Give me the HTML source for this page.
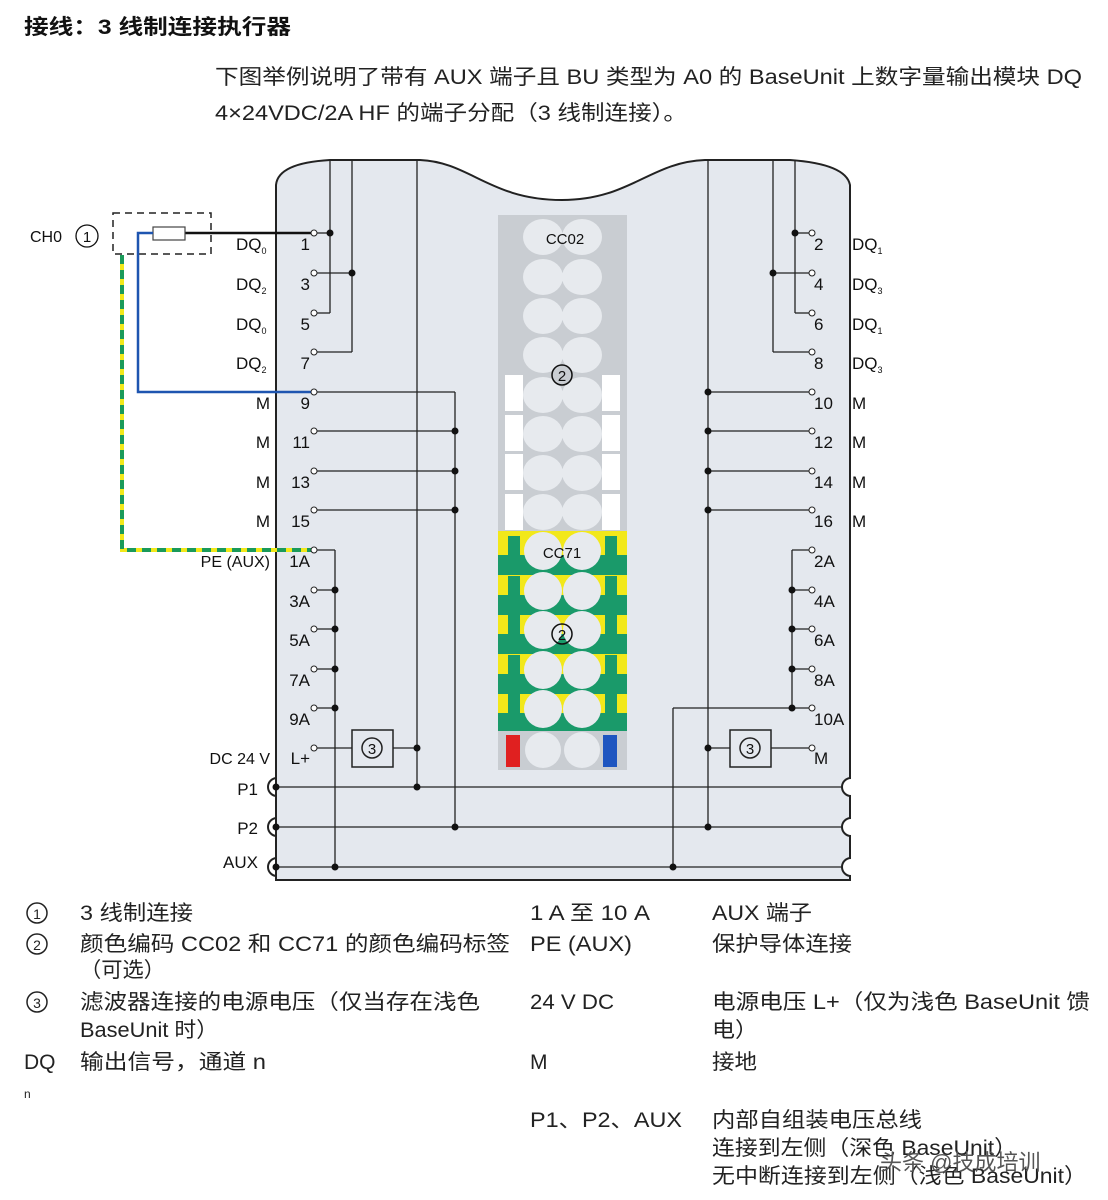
<!DOCTYPE html>
<html><head><meta charset="utf-8"><style>
body{margin:0;background:#fff;}
svg{display:block;font-family:"Liberation Sans","Noto Sans CJK SC",sans-serif;}
</style></head><body>
<svg width="1108" height="1200" viewBox="0 0 1108 1200" xmlns="http://www.w3.org/2000/svg">
<text x="24" y="34" font-size="21" font-weight="bold" fill="#111" textLength="267" lengthAdjust="spacingAndGlyphs">接线：3 线制连接执行器</text>
<text x="215" y="84" font-size="21" fill="#222" textLength="867" lengthAdjust="spacingAndGlyphs">下图举例说明了带有 AUX 端子且 BU 类型为 A0 的 BaseUnit 上数字量输出模块 DQ</text>
<text x="215" y="120" font-size="21" fill="#222" textLength="472" lengthAdjust="spacingAndGlyphs">4×24VDC/2A HF 的端子分配（3 线制连接）。</text>

<!-- body -->
<path d="M276,880 L276,185 Q278,163 330,160 L420,160 C470,162 490,200 562,200 C630,200 650,162 705,160 L790,160 Q846,164 850,185 L850,880 Z" fill="#e4e8ee" stroke="#222" stroke-width="2"/>

<g stroke="#222" stroke-width="1.3" fill="none">
<line x1="330" y1="161" x2="330" y2="313"/><line x1="330" y1="313" x2="316" y2="313"/>
<line x1="352" y1="161" x2="352" y2="352"/><line x1="352" y1="352" x2="316" y2="352"/>
<line x1="316" y1="233" x2="330" y2="233"/><line x1="316" y1="273" x2="352" y2="273"/>
<line x1="417" y1="161" x2="417" y2="787"/>
<line x1="455" y1="392" x2="455" y2="827"/>
<line x1="316" y1="392" x2="455" y2="392"/><line x1="316" y1="431" x2="455" y2="431"/>
<line x1="316" y1="471" x2="455" y2="471"/><line x1="316" y1="510" x2="455" y2="510"/>
<line x1="316" y1="550" x2="335" y2="550"/><line x1="335" y1="550" x2="335" y2="867"/>
<line x1="316" y1="590" x2="335" y2="590"/><line x1="316" y1="629" x2="335" y2="629"/>
<line x1="316" y1="669" x2="335" y2="669"/><line x1="316" y1="708" x2="335" y2="708"/>
<line x1="316" y1="748" x2="352" y2="748"/><line x1="393" y1="748" x2="417" y2="748"/>
<line x1="795" y1="161" x2="795" y2="313"/><line x1="795" y1="313" x2="809" y2="313"/>
<line x1="773" y1="161" x2="773" y2="352"/><line x1="773" y1="352" x2="809" y2="352"/>
<line x1="795" y1="233" x2="809" y2="233"/><line x1="773" y1="273" x2="809" y2="273"/>
<line x1="708" y1="161" x2="708" y2="827"/>
<line x1="708" y1="392" x2="809" y2="392"/><line x1="708" y1="431" x2="809" y2="431"/>
<line x1="708" y1="471" x2="809" y2="471"/><line x1="708" y1="510" x2="809" y2="510"/>
<line x1="792" y1="550" x2="809" y2="550"/><line x1="792" y1="550" x2="792" y2="708"/>
<line x1="792" y1="590" x2="809" y2="590"/><line x1="792" y1="629" x2="809" y2="629"/>
<line x1="792" y1="669" x2="809" y2="669"/>
<line x1="673" y1="708" x2="809" y2="708"/><line x1="673" y1="708" x2="673" y2="867"/>
<line x1="708" y1="748" x2="730" y2="748"/><line x1="771" y1="748" x2="809" y2="748"/>
<line x1="276" y1="787" x2="843" y2="787"/>
<line x1="276" y1="827" x2="843" y2="827"/>
<line x1="276" y1="867" x2="843" y2="867"/>
</g>
<!-- edge notches -->
<g stroke="#222" stroke-width="2">
<path d="M277,778 A9,9 0 0 0 277,796" fill="none"/>
<path d="M277,818 A9,9 0 0 0 277,836" fill="none"/>
<path d="M277,858 A9,9 0 0 0 277,876" fill="none"/>
<path d="M851,778 A9,9 0 0 0 851,796" fill="#fff"/>
<path d="M851,818 A9,9 0 0 0 851,836" fill="#fff"/>
<path d="M851,858 A9,9 0 0 0 851,876" fill="#fff"/>
</g>
<rect x="852" y="770" width="10" height="110" fill="#fff"/>
<g fill="#111">
<circle cx="276" cy="787" r="3.5"/><circle cx="276" cy="827" r="3.5"/><circle cx="276" cy="867" r="3.5"/>
<circle cx="330" cy="233" r="3.5"/><circle cx="352" cy="273" r="3.5"/>
<circle cx="455" cy="431" r="3.5"/><circle cx="455" cy="471" r="3.5"/><circle cx="455" cy="510" r="3.5"/>
<circle cx="335" cy="590" r="3.5"/><circle cx="335" cy="629" r="3.5"/><circle cx="335" cy="669" r="3.5"/><circle cx="335" cy="708" r="3.5"/>
<circle cx="417" cy="748" r="3.5"/><circle cx="417" cy="787" r="3.5"/><circle cx="455" cy="827" r="3.5"/><circle cx="335" cy="867" r="3.5"/>
<circle cx="795" cy="233" r="3.5"/><circle cx="773" cy="273" r="3.5"/>
<circle cx="708" cy="392" r="3.5"/><circle cx="708" cy="431" r="3.5"/><circle cx="708" cy="471" r="3.5"/><circle cx="708" cy="510" r="3.5"/>
<circle cx="792" cy="590" r="3.5"/><circle cx="792" cy="629" r="3.5"/><circle cx="792" cy="669" r="3.5"/><circle cx="792" cy="708" r="3.5"/>
<circle cx="708" cy="748" r="3.5"/><circle cx="708" cy="827" r="3.5"/><circle cx="673" cy="867" r="3.5"/>
</g>
<g stroke="#222" stroke-width="1.5" fill="#e4e8ee">
<rect x="352" y="730" width="41" height="37"/><rect x="730" y="730" width="41" height="37"/>
<circle cx="372" cy="748" r="10"/><circle cx="750" cy="748" r="10"/>
</g>
<text x="372" y="754" font-size="15" text-anchor="middle" fill="#111">3</text>
<text x="750" y="754" font-size="15" text-anchor="middle" fill="#111">3</text>

<!-- center strip -->
<rect x="498" y="215" width="129" height="316" fill="#c9cdd2"/>
<g fill="#fff">
<rect x="505" y="375" width="18" height="36"/><rect x="602" y="375" width="18" height="36"/>
<rect x="505" y="415" width="18" height="36"/><rect x="602" y="415" width="18" height="36"/>
<rect x="505" y="454" width="18" height="36"/><rect x="602" y="454" width="18" height="36"/>
<rect x="505" y="494" width="18" height="36"/><rect x="602" y="494" width="18" height="36"/>
</g>
<g fill="#e7eaee">
<ellipse cx="543" cy="237" rx="20" ry="18"/><ellipse cx="582" cy="237" rx="20" ry="18"/>
<ellipse cx="543" cy="277" rx="20" ry="18"/><ellipse cx="582" cy="277" rx="20" ry="18"/>
<ellipse cx="543" cy="316" rx="20" ry="18"/><ellipse cx="582" cy="316" rx="20" ry="18"/>
<ellipse cx="543" cy="355" rx="20" ry="18"/><ellipse cx="582" cy="355" rx="20" ry="18"/>
<ellipse cx="543" cy="395" rx="20" ry="18"/><ellipse cx="582" cy="395" rx="20" ry="18"/>
<ellipse cx="543" cy="434" rx="20" ry="18"/><ellipse cx="582" cy="434" rx="20" ry="18"/>
<ellipse cx="543" cy="473" rx="20" ry="18"/><ellipse cx="582" cy="473" rx="20" ry="18"/>
<ellipse cx="543" cy="512" rx="20" ry="18"/><ellipse cx="582" cy="512" rx="20" ry="18"/>
</g>
<g>
<rect x="498" y="531" width="129" height="200" fill="#f2e81a"/>
<g fill="#1a9a6a">
<rect x="498" y="555" width="129" height="20"/><rect x="508" y="536" width="12" height="25"/><rect x="605" y="536" width="12" height="25"/>
<rect x="498" y="595" width="129" height="20"/><rect x="508" y="576" width="12" height="25"/><rect x="605" y="576" width="12" height="25"/>
<rect x="498" y="634" width="129" height="20"/><rect x="508" y="615" width="12" height="25"/><rect x="605" y="615" width="12" height="25"/>
<rect x="498" y="674" width="129" height="20"/><rect x="508" y="655" width="12" height="25"/><rect x="605" y="655" width="12" height="25"/>
<rect x="498" y="713" width="129" height="18"/><rect x="508" y="694" width="12" height="25"/><rect x="605" y="694" width="12" height="25"/>
</g>
<g fill="#e7eaee">
<circle cx="543" cy="551" r="19"/><circle cx="582" cy="551" r="19"/>
<circle cx="543" cy="591" r="19"/><circle cx="582" cy="591" r="19"/>
<circle cx="543" cy="630" r="19"/><circle cx="582" cy="630" r="19"/>
<circle cx="543" cy="670" r="19"/><circle cx="582" cy="670" r="19"/>
<circle cx="543" cy="709" r="19"/><circle cx="582" cy="709" r="19"/>
</g>
<rect x="498" y="731" width="129" height="39" fill="#c9cdd2"/>
<circle cx="543" cy="750" r="18" fill="#e7eaee"/><circle cx="582" cy="750" r="18" fill="#e7eaee"/>
<rect x="506" y="735" width="14" height="32" fill="#e02020"/><rect x="603" y="735" width="14" height="32" fill="#1e55c0"/>
</g>
<text x="565" y="244" font-size="15" text-anchor="middle" fill="#111">CC02</text>
<text x="562" y="558" font-size="15" text-anchor="middle" fill="#111">CC71</text>
<circle cx="562" cy="375" r="10" fill="none" stroke="#111" stroke-width="1.5"/><text x="562" y="381" font-size="15" text-anchor="middle" fill="#111">2</text>
<circle cx="562" cy="634" r="10" fill="none" stroke="#111" stroke-width="1.5"/><text x="562" y="640" font-size="15" text-anchor="middle" fill="#111">2</text>

<!-- external wiring -->
<rect x="113" y="213" width="98" height="41" fill="none" stroke="#222" stroke-width="1.5" stroke-dasharray="7,5"/>
<line x1="185" y1="233" x2="312" y2="233" stroke="#111" stroke-width="2.5"/>
<rect x="153" y="227" width="32" height="13" fill="#fff" stroke="#444" stroke-width="1.2"/>
<polyline points="153,233 138,233 138,392 312,392" fill="none" stroke="#1e55b0" stroke-width="2.5"/>
<polyline points="122,255 122,550 312,550" fill="none" stroke="#f2e81a" stroke-width="4"/>
<polyline points="122,255 122,550 312,550" fill="none" stroke="#1a9a5a" stroke-width="4" stroke-dasharray="9,6"/>
<text x="30" y="242" font-size="16" fill="#111">CH0</text>
<circle cx="87" cy="236" r="11" fill="none" stroke="#111" stroke-width="1.3"/><text x="87" y="242" font-size="15" text-anchor="middle" fill="#111">1</text>

<g fill="#fff" stroke="#222" stroke-width="1">
<circle cx="314" cy="233" r="3"/><circle cx="314" cy="273" r="3"/><circle cx="314" cy="313" r="3"/><circle cx="314" cy="352" r="3"/>
<circle cx="314" cy="392" r="3"/><circle cx="314" cy="431" r="3"/><circle cx="314" cy="471" r="3"/><circle cx="314" cy="510" r="3"/>
<circle cx="314" cy="550" r="3"/><circle cx="314" cy="590" r="3"/><circle cx="314" cy="629" r="3"/><circle cx="314" cy="669" r="3"/><circle cx="314" cy="708" r="3"/><circle cx="314" cy="748" r="3"/>
<circle cx="812" cy="233" r="3"/><circle cx="812" cy="273" r="3"/><circle cx="812" cy="313" r="3"/><circle cx="812" cy="352" r="3"/>
<circle cx="812" cy="392" r="3"/><circle cx="812" cy="431" r="3"/><circle cx="812" cy="471" r="3"/><circle cx="812" cy="510" r="3"/>
<circle cx="812" cy="550" r="3"/><circle cx="812" cy="590" r="3"/><circle cx="812" cy="629" r="3"/><circle cx="812" cy="669" r="3"/><circle cx="812" cy="708" r="3"/><circle cx="812" cy="748" r="3"/>
</g>
<g font-size="17" fill="#111" text-anchor="end">
<text x="310" y="250">1</text><text x="310" y="290">3</text><text x="310" y="330">5</text><text x="310" y="369">7</text>
<text x="310" y="409">9</text><text x="310" y="448">11</text><text x="310" y="488">13</text><text x="310" y="527">15</text>
<text x="310" y="567">1A</text><text x="310" y="607">3A</text><text x="310" y="646">5A</text><text x="310" y="686">7A</text><text x="310" y="725">9A</text><text x="310" y="764">L+</text>
<text x="262" y="290" display="none"></text>
<text x="262" y="290" display="none"></text>
<text x="270" y="409">M</text><text x="270" y="448">M</text><text x="270" y="488">M</text><text x="270" y="527">M</text>
<text x="270" y="567" font-size="16">PE (AUX)</text><text x="270" y="764" font-size="16">DC 24 V</text>
<text x="258" y="795">P1</text><text x="258" y="834">P2</text><text x="258" y="868">AUX</text>
</g>
<g font-size="17" fill="#111">
<text x="236" y="250">DQ<tspan font-size="9" dy="4">0</tspan></text>
<text x="236" y="290">DQ<tspan font-size="9" dy="4">2</tspan></text>
<text x="236" y="330">DQ<tspan font-size="9" dy="4">0</tspan></text>
<text x="236" y="369">DQ<tspan font-size="9" dy="4">2</tspan></text>
<text x="814" y="250">2</text><text x="814" y="290">4</text><text x="814" y="330">6</text><text x="814" y="369">8</text>
<text x="814" y="409">10</text><text x="814" y="448">12</text><text x="814" y="488">14</text><text x="814" y="527">16</text>
<text x="814" y="567">2A</text><text x="814" y="607">4A</text><text x="814" y="646">6A</text><text x="814" y="686">8A</text><text x="814" y="725">10A</text><text x="814" y="764">M</text>
<text x="852" y="250">DQ<tspan font-size="9" dy="4">1</tspan></text>
<text x="852" y="290">DQ<tspan font-size="9" dy="4">3</tspan></text>
<text x="852" y="330">DQ<tspan font-size="9" dy="4">1</tspan></text>
<text x="852" y="369">DQ<tspan font-size="9" dy="4">3</tspan></text>
<text x="852" y="409">M</text><text x="852" y="448">M</text><text x="852" y="488">M</text><text x="852" y="527">M</text>
</g>

<!-- legend -->
<g font-size="21" fill="#222" lengthAdjust="spacingAndGlyphs">
<circle cx="37" cy="913" r="10" fill="none" stroke="#222" stroke-width="1.5"/><text x="37" y="919" font-size="14" text-anchor="middle">1</text>
<circle cx="37" cy="944" r="10" fill="none" stroke="#222" stroke-width="1.5"/><text x="37" y="950" font-size="14" text-anchor="middle">2</text>
<circle cx="37" cy="1002" r="10" fill="none" stroke="#222" stroke-width="1.5"/><text x="37" y="1008" font-size="14" text-anchor="middle">3</text>
<text x="80" y="920" textLength="113" lengthAdjust="spacingAndGlyphs">3 线制连接</text>
<text x="80" y="951" textLength="430" lengthAdjust="spacingAndGlyphs">颜色编码 CC02 和 CC71 的颜色编码标签</text>
<text x="80" y="977" textLength="85" lengthAdjust="spacingAndGlyphs">（可选）</text>
<text x="80" y="1009" textLength="400" lengthAdjust="spacingAndGlyphs">滤波器连接的电源电压（仅当存在浅色</text>
<text x="80" y="1037" textLength="138" lengthAdjust="spacingAndGlyphs">BaseUnit 时）</text>
<text x="24" y="1069">DQ</text><text x="80" y="1069" textLength="186" lengthAdjust="spacingAndGlyphs">输出信号，通道 n</text>
<text x="24" y="1098" font-size="12">n</text>
<text x="530" y="920" textLength="120" lengthAdjust="spacingAndGlyphs">1 A 至 10 A</text><text x="712" y="920" textLength="100" lengthAdjust="spacingAndGlyphs">AUX 端子</text>
<text x="530" y="951" textLength="102" lengthAdjust="spacingAndGlyphs">PE (AUX)</text><text x="712" y="951" textLength="140" lengthAdjust="spacingAndGlyphs">保护导体连接</text>
<text x="530" y="1009" textLength="84" lengthAdjust="spacingAndGlyphs">24 V DC</text><text x="712" y="1009" textLength="378" lengthAdjust="spacingAndGlyphs">电源电压 L+（仅为浅色 BaseUnit 馈</text>
<text x="712" y="1037" textLength="46" lengthAdjust="spacingAndGlyphs">电）</text>
<text x="530" y="1069">M</text><text x="712" y="1069" textLength="45" lengthAdjust="spacingAndGlyphs">接地</text>
<text x="530" y="1127" textLength="152" lengthAdjust="spacingAndGlyphs">P1、P2、AUX</text><text x="712" y="1127" textLength="210" lengthAdjust="spacingAndGlyphs">内部自组装电压总线</text>
<text x="712" y="1155" textLength="305" lengthAdjust="spacingAndGlyphs">连接到左侧（深色 BaseUnit）</text>
<text x="712" y="1183" textLength="375" lengthAdjust="spacingAndGlyphs">无中断连接到左侧（浅色 BaseUnit）</text>
<text x="880" y="1170" font-size="22" fill="#555">头条 @技成培训</text>
</g>
</svg>
</body></html>
